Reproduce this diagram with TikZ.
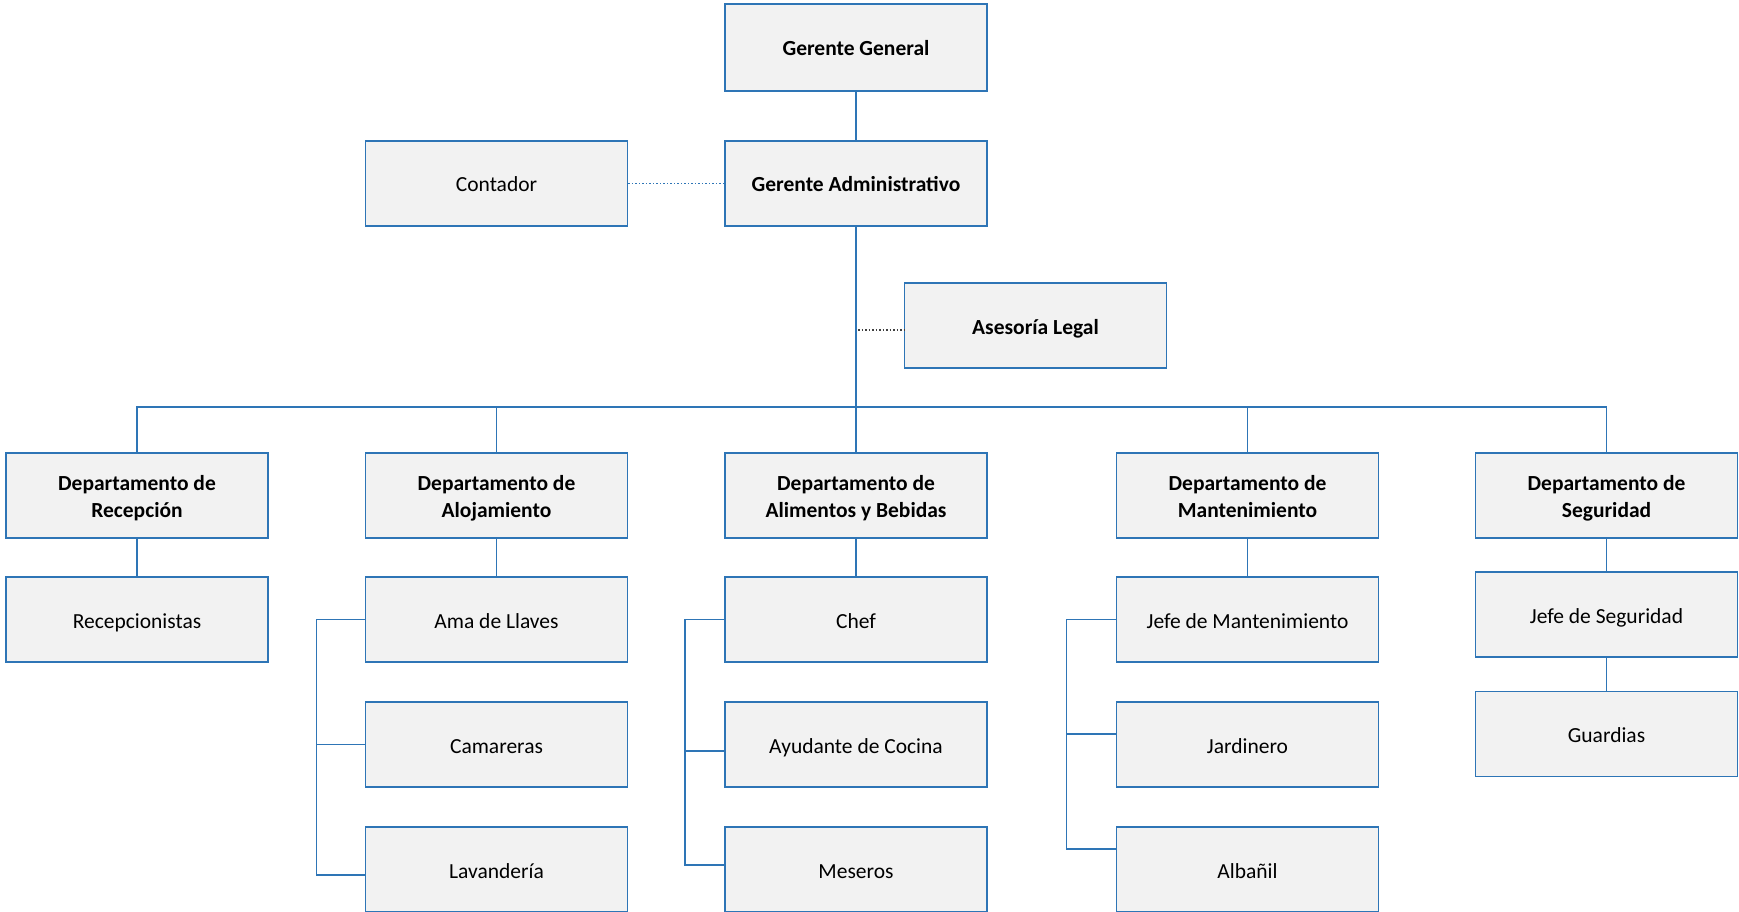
\documentclass[tikz,border=0pt]{standalone}
\usepackage{fontspec}
\setmainfont{Carlito}
\definecolor{boxblue}{RGB}{46,117,182}
\definecolor{boxfill}{RGB}{242,242,242}
\definecolor{dotgray}{RGB}{64,64,64}
% fixed line box so every label sits at the same height in its box
\newcommand\lnstrut{\rule[-5pt]{0pt}{27pt}}
\begin{document}
\begin{tikzpicture}[x=1pt,y=-1pt,
  orgbox/.style={draw=boxblue,fill=boxfill,line width=1.8pt,minimum width=262pt,
    minimum height=85pt,inner sep=0pt,align=center,
    font=\fontsize{21.5}{27}\selectfont},
  headbox/.style={orgbox,font=\fontsize{21.5}{27}\selectfont\bfseries},
  link/.style={draw=boxblue,line width=1.5pt},
  dotlink/.style={draw=boxblue,line width=1.5pt,dotted},
  graydot/.style={draw=dotgray,line width=1.5pt,dotted}]
\useasboundingbox (0,0) rectangle (1739,912);

% management
\node[headbox,minimum height=87pt] (gg) at (856,47.5) {Gerente General\lnstrut};
\node[headbox] (ga) at (856,183.5) {Gerente Administrativo\lnstrut};
\node[orgbox] (cont) at (496.5,183.5) {Contador\lnstrut};
\node[headbox] (legal) at (1035.5,325.5) {Asesoría Legal\lnstrut};

% departments
\node[headbox] (rec) at (137,495.5) {Departamento de\lnstrut\\Recepción\lnstrut};
\node[headbox] (aloj) at (496.5,495.5) {Departamento de\lnstrut\\Alojamiento\lnstrut};
\node[headbox] (alim) at (856,495.5) {Departamento de\lnstrut\\Alimentos y Bebidas\lnstrut};
\node[headbox] (mant) at (1247.5,495.5) {Departamento de\lnstrut\\Mantenimiento\lnstrut};
\node[headbox] (seg) at (1606.5,495.5) {Departamento de\lnstrut\\Seguridad\lnstrut};

% staff
\node[orgbox] (recep) at (137,619.5) {Recepcionistas\lnstrut};
\node[orgbox] (ama) at (496.5,619.5) {Ama de Llaves\lnstrut};
\node[orgbox] (cam) at (496.5,744.5) {Camareras\lnstrut};
\node[orgbox] (lav) at (496.5,869.5) {Lavandería\lnstrut};
\node[orgbox] (chef) at (856,619.5) {Chef\lnstrut};
\node[orgbox] (ayud) at (856,744.5) {Ayudante de Cocina\lnstrut};
\node[orgbox] (mes) at (856,869.5) {Meseros\lnstrut};
\node[orgbox] (jefem) at (1247.5,619.5) {Jefe de Mantenimiento\lnstrut};
\node[orgbox] (jard) at (1247.5,744.5) {Jardinero\lnstrut};
\node[orgbox] (alb) at (1247.5,869.5) {Albañil\lnstrut};
\node[orgbox] (jefes) at (1606.5,614.5) {Jefe de Seguridad\lnstrut};
\node[orgbox] (guard) at (1606.5,734) {Guardias\lnstrut};

% top of the chart
\draw[link] (gg.south) -- (ga.north);
\draw[dotlink] (cont.east) -- (ga.west);
\draw[link] (ga.south) -- (alim.north);
\coordinate (legaltap) at (858,330);
\draw[graydot] (legaltap) -- (legal.west |- legaltap);

% department bus
\coordinate (bus) at (856,407);
\draw[link] (rec.north) -- (rec.north |- bus) -- (seg.north |- bus) -- (seg.north);
\draw[link] (aloj.north |- bus) -- (aloj.north);
\draw[link] (mant.north |- bus) -- (mant.north);

% department to first staff box
\draw[link] (rec.south) -- (recep.north);
\draw[link] (aloj.south) -- (ama.north);
\draw[link] (alim.south) -- (chef.north);
\draw[link] (mant.south) -- (jefem.north);
\draw[link] (seg.south) -- (jefes.north);
\draw[link] (jefes.south) -- (guard.north);

% side brackets
\coordinate (ab) at ([xshift=-48pt]ama.west);
\coordinate (lavin) at ([yshift=-5.5pt]lav.west);
\draw[link] (ama.west) -- (ab) |- (lavin);
\draw[link] (ab |- cam.west) -- (cam.west);

\coordinate (cb) at ([xshift=-39pt]chef.west);
\coordinate (mesin) at ([yshift=4.5pt]mes.west);
\coordinate (ayudin) at ([yshift=-6.5pt]ayud.west);
\draw[link] (chef.west) -- (cb) |- (mesin);
\draw[link] (cb |- ayudin) -- (ayudin);

\coordinate (mb) at ([xshift=-49pt]jefem.west);
\coordinate (albin) at ([yshift=20.5pt]alb.west);
\coordinate (jardin) at ([yshift=10.5pt]jard.west);
\draw[link] (jefem.west) -- (mb) |- (albin);
\draw[link] (mb |- jardin) -- (jardin);
\end{tikzpicture}
\end{document}
